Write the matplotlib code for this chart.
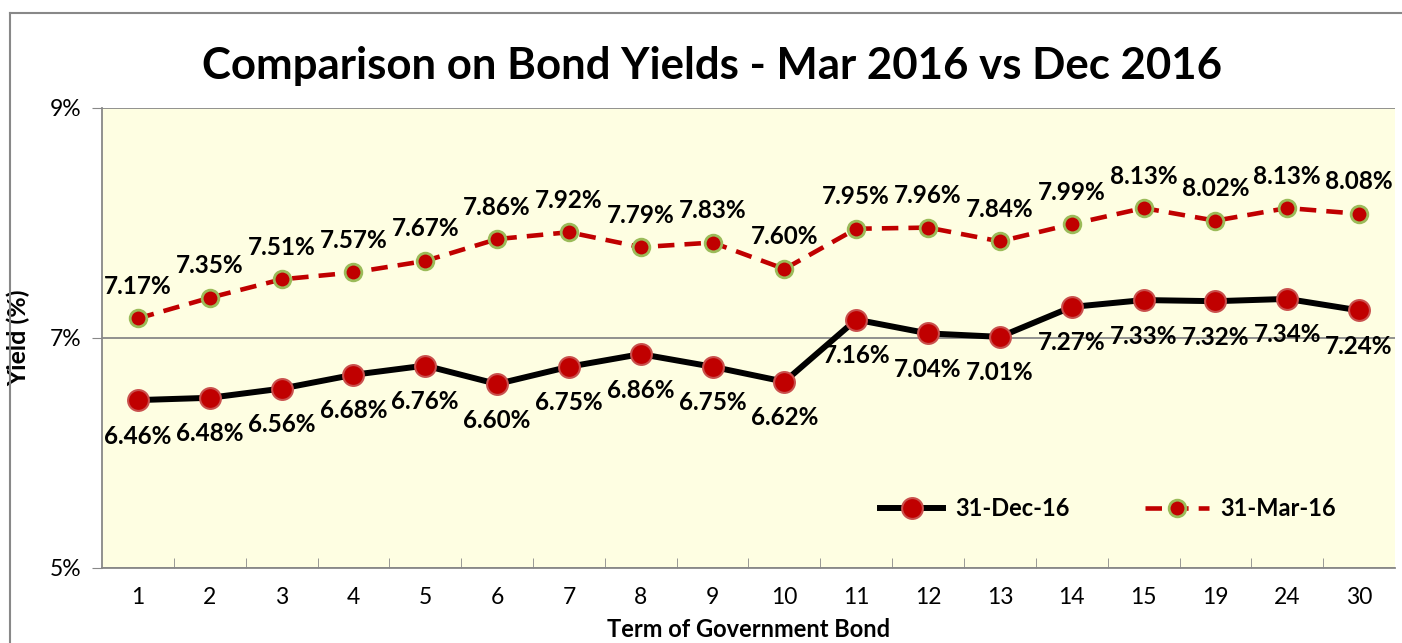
import matplotlib
matplotlib.use("Agg")
import matplotlib.pyplot as plt
from matplotlib.lines import Line2D

plt.rcParams['font.family'] = ['Lato', 'DejaVu Sans']

terms = ['1', '2', '3', '4', '5', '6', '7', '8', '9', '10', '11', '12', '13', '14', '15', '19', '24', '30']
dec16 = [6.46, 6.48, 6.56, 6.68, 6.76, 6.60, 6.75, 6.86, 6.75, 6.62, 7.16, 7.04, 7.01, 7.27, 7.33, 7.32, 7.34, 7.24]
mar16 = [7.17, 7.35, 7.51, 7.57, 7.67, 7.86, 7.92, 7.79, 7.83, 7.60, 7.95, 7.96, 7.84, 7.99, 8.13, 8.02, 8.13, 8.08]
y_ticks = [5, 7, 9]

fig = plt.figure(figsize=(14.02, 6.43), dpi=100)
ax = fig.add_axes([102 / 1402, 1 - 568 / 643, 1293 / 1402, 460 / 643])
ax.set_facecolor('#FEFEE2')

x = list(range(len(terms)))

dec_style = dict(color='black', lw=4.3, marker='o', ms=15, mfc='#C00000', mec='#C9504D', mew=1.5)
mar_style = dict(color='#C00000', lw=3.3, ls=(0, (3.6, 2.2)), marker='o', ms=12, mfc='#C00000', mec='#9BBB59', mew=2)

ax.plot(x, dec16, zorder=3, **dec_style)
ax.plot(x, mar16, zorder=3, **mar_style)

for xi, v in zip(x, dec16):
    ax.annotate(f'{v:.2f}%', (xi, v), xytext=(0, -36), textcoords='offset pixels',
                ha='center', va='center', fontsize=17.5, fontweight='bold')
for xi, v in zip(x, mar16):
    ax.annotate(f'{v:.2f}%', (xi, v), xytext=(0, 32), textcoords='offset pixels',
                ha='center', va='center', fontsize=17.5, fontweight='bold')

ax.set_xlim(-0.5, len(terms) - 0.5)
ax.set_ylim(5, 9)
ax.set_yticks(y_ticks)
ax.set_yticklabels([f'{t}%' for t in y_ticks], fontsize=16.5)
ax.set_xticks(x)
ax.set_xticklabels(terms, fontsize=16.5)
ax.tick_params(axis='x', length=0, pad=14)
ax.set_xticks([i + 0.5 for i in x[:-1]], minor=True)
ax.tick_params(axis='x', which='minor', direction='in', length=7, color='#888888')
ax.tick_params(axis='y', length=7, color='#888888', pad=8)

ax.yaxis.grid(True, color='#888888', lw=1.3)
ax.set_axisbelow(True)
for s in ['top', 'right']:
    ax.spines[s].set_visible(False)
for s in ['left', 'bottom']:
    ax.spines[s].set_color('#888888')
    ax.spines[s].set_linewidth(1.3)

ax.set_ylabel('Yield (%)', fontsize=18, fontweight='bold')
ax.yaxis.set_label_coords(-0.0557, 0.5)
ax.set_xlabel('Term of Government Bond', fontsize=17, fontweight='bold')
ax.xaxis.set_label_coords(0.5, -0.108)

fig.text(712 / 1402, 1 - 66 / 643, 'Comparison on Bond Yields - Mar 2016 vs Dec 2016',
         ha='center', va='center', fontsize=31.5, fontweight='bold')

# outer chart border
fig.add_artist(Line2D([10 / 1402, 10 / 1402], [0, 1 - 13 / 643], transform=fig.transFigure, color='#888888', lw=1.5))
fig.add_artist(Line2D([10 / 1402, 1], [1 - 13 / 643, 1 - 13 / 643], transform=fig.transFigure, color='#888888', lw=1.5))

h1 = Line2D([], [], **dec_style)
h2 = Line2D([], [], **mar_style)
ax.legend([h1, h2], ['31-Dec-16', '31-Mar-16'], loc='center', bbox_to_anchor=(1108 / 1402, 1 - 509 / 643),
          bbox_transform=fig.transFigure, ncol=2, frameon=False, prop={'size': 17, 'weight': 'bold'},
          handlelength=2.7, handletextpad=0.5, columnspacing=3.2)

fig.savefig('out.png', dpi=100)
